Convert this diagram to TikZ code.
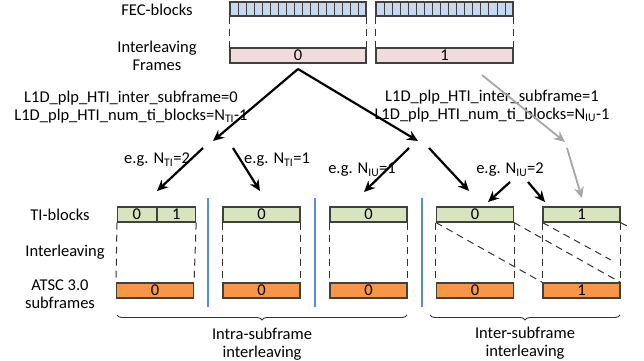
\documentclass[tikz,border=0pt]{standalone}
\usepackage{fontspec}
\setmainfont{Carlito}
\usetikzlibrary{arrows.meta,decorations.pathreplacing}

\definecolor{fecblue}{HTML}{C6D9F1}
\definecolor{framepink}{HTML}{F2DCDB}
\definecolor{tigreen}{HTML}{D7E4BD}
\definecolor{sforange}{HTML}{F79646}
\definecolor{sepblue}{HTML}{558ED5}

\begin{document}
\begin{tikzpicture}[x=1pt,y=-1pt,
  every node/.style={font=\fontsize{16.5}{18}\selectfont},
  blk/.style={draw=black!75,line width=1.1pt,inner sep=0pt,minimum height=15pt,minimum width=77pt},
  fecblk/.style={blk,fill=fecblue,minimum height=14pt},
  frmblk/.style={blk,fill=framepink},
  tiblk/.style={blk,fill=tigreen},
  sfblk/.style={blk,fill=sforange},
  gap/.style={draw=black!80,line width=1pt,dash pattern=on 7pt off 5pt},
  bigarrow/.style={-{Stealth[length=11pt,width=10pt]},line width=2.2pt},
  grayarrow/.style={bigarrow,draw=black!35,line width=1.8pt},
  sep/.style={draw=sepblue,line width=1.8pt},
  brace/.style={decorate,decoration={brace,mirror,amplitude=5pt},draw=black!80,line width=0.9pt}]

  \useasboundingbox (0,0) rectangle (644,360);

  % FEC-blocks and interleaving frames
  \node[fecblk,minimum width=136pt] (fec0) at (298,9) {};
  \node[fecblk,minimum width=137pt] (fec1) at (444.5,9) {};
  \foreach \i in {1,...,16} {
    \draw[black!75,line width=0.8pt] (230+\i*8,2) -- (230+\i*8,16);
    \draw[black!75,line width=0.8pt] (376+\i*8.06,2) -- (376+\i*8.06,16);
  }
  \node[frmblk,minimum width=136pt] (frm0) at (298,55.5) {0};
  \node[frmblk,minimum width=137pt] (frm1) at (444.5,55.5) {1};
  \draw[gap] (fec0.south west) -- (frm0.north west);
  \draw[gap] (fec0.south east) -- (frm0.north east);
  \draw[gap] (fec1.south west) -- (frm1.north west);
  \draw[gap] (fec1.south east) -- (frm1.north east);

  \node (fecl) at (157,10) {FEC-blocks};
  \node[align=center] (frml) at (157,56) {Interleaving\\Frames};

  % TI-blocks and subframes
  \node[tiblk,minimum width=38.5pt,anchor=west] (ti1a) at (117,214.5) {0};
  \node[tiblk,minimum width=38.5pt,anchor=west] (ti1b) at (ti1a.east) {1};
  \node[sfblk] (sf1) at (155,290.5) {0};
  \draw[gap] (ti1a.south west) -- (sf1.north west);
  \draw[gap] (ti1b.south east) -- (sf1.north east);
  \foreach \g/\x/\t in {2/261.5/0,3/368.5/0,4/475/0,5/581.5/1} {
    \node[tiblk] (ti\g) at (\x,214.5) {\t};
    \node[sfblk] (sf\g) at (\x,290.5) {\t};
    \draw[gap] (ti\g.south west) -- (sf\g.north west);
    \draw[gap] (ti\g.south east) -- (sf\g.north east);
  }
  % inter-subframe spreading
  \coordinate (cut5) at (611,260);
  \coordinate (edge5) at (630,227.5);
  \draw[gap] (ti4.south west) -- (sf5.north west);
  \draw[gap] (ti4.south east) -- (sf5.north east);
  \draw[gap] (ti5.south west) -- (cut5);
  \draw[gap] (ti5.south east) -- (edge5);

  \draw[sep] (208,198) -- (208,307);
  \draw[sep] (315,198) -- (315,307);
  \draw[sep] (422,198) -- (422,307);

  \node (til) at (60,215) {TI-blocks};
  \node (ilvl) at (65,252) {Interleaving};
  \node[align=center] (sfl) at (60,294) {ATSC 3.0\\subframes};

  % signalling and arrows
  \node[align=center] (hti0) at (131,107) {L1D\_plp\_HTI\_inter\_subframe=0\\L1D\_plp\_HTI\_num\_ti\_blocks=N\textsubscript{TI}-1};
  \node[align=center] (hti1) at (492,106) {L1D\_plp\_HTI\_inter\_subframe=1\\L1D\_plp\_HTI\_num\_ti\_blocks=N\textsubscript{IU}-1};

  \coordinate (apex) at (298,69);
  \coordinate (forkl) at (213,141);
  \coordinate (forkr) at (418,141);
  \draw[bigarrow] (apex) -- (forkl);
  \draw[bigarrow] (apex) -- (forkr);

  \coordinate (a1) at (203,148);  \coordinate (b1) at (157,191);
  \coordinate (a2) at (233,148);  \coordinate (b2) at (260,191);
  \coordinate (a3) at (409,148);  \coordinate (b3) at (364,192);
  \coordinate (a4) at (429,148);  \coordinate (b4) at (469,191);
  \coordinate (a5) at (510,182);  \coordinate (b5) at (488,202);
  \coordinate (a6) at (528,182);  \coordinate (b6) at (545,202);
  \foreach \k in {1,...,6}
    \draw[bigarrow] (a\k) -- (b\k);

  \coordinate (g1) at (482,75);   \coordinate (g2) at (565,142);
  \coordinate (g3) at (567,148);  \coordinate (g4) at (582,198);
  \draw[grayarrow] (g1) -- (g2);
  \draw[grayarrow] (g3) -- (g4);

  \node (eg1) at (157,160) {e.g. N\textsubscript{TI}=2};
  \node (eg2) at (277,160) {e.g. N\textsubscript{TI}=1};
  \node (eg3) at (362,170) {e.g. N\textsubscript{IU}=1};
  \node (eg4) at (510,170) {e.g. N\textsubscript{IU}=2};

  % braces
  \draw[brace] (117,315) -- (407,315);
  \draw[brace] (430,315) -- (620,315);
  \node[align=center] (intra) at (262,344) {Intra-subframe\\interleaving};
  \node[align=center] (inter) at (525,343) {Inter-subframe\\interleaving};

\end{tikzpicture}
\end{document}
